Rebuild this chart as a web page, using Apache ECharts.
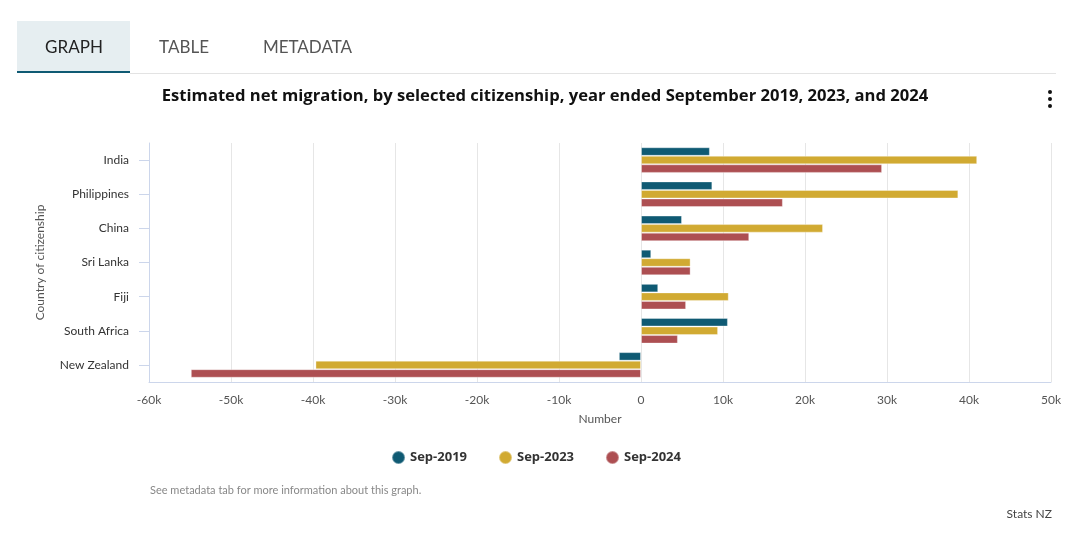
<!DOCTYPE html>
<html>
<head>
<meta charset="utf-8">
<script src="https://cdn.jsdelivr.net/npm/echarts@6/dist/echarts.min.js"></script>
<style>
html,body{margin:0;padding:0;background:#fff;}
#chart{width:1072px;height:534px;}
</style>
</head>
<body>
<div id="chart"></div>
<script>
const categories = ['India', 'Philippines', 'China', 'Sri Lanka', 'Fiji', 'South Africa', 'New Zealand'];
const sep2019 = [8400, 8700, 5000, 1250, 2100, 10600, -2700];
const sep2023 = [41000, 38700, 22200, 6050, 10700, 9400, -39700];
const sep2024 = [29400, 17300, 13200, 6050, 5500, 4500, -54900];
const seriesNames = ['Sep-2019', 'Sep-2023', 'Sep-2024'];
const colors = ['#0f5a73', '#d1aa32', '#ad4f52'];
const xTicks = { min: -60000, max: 50000, interval: 10000 };

const FONT = 'Lato, "Open Sans", sans-serif';
const BOLDFONT = '"Open Sans", Lato, sans-serif';
const chart = echarts.init(document.getElementById('chart'), null, { renderer: 'canvas' });

function mkSeries(name, data, color) {
  return {
    name: name,
    type: 'bar',
    data: data,
    barWidth: '25%',
    barGap: '0%',
    itemStyle: { color: color, borderColor: 'rgba(255,255,255,0.35)', borderWidth: 1 },
    emphasis: { disabled: true }
  };
}

chart.setOption({
  animation: false,
  color: colors,
  textStyle: { fontFamily: FONT },
  grid: { left: 149, right: 21, top: 143, bottom: 152, containLabel: false },
  title: {
    text: 'Estimated net migration, by selected citizenship, year ended September 2019, 2023, and 2024',
    left: 540, top: 83, textAlign: 'center',
    textStyle: { fontFamily: BOLDFONT, fontSize: 16.6, fontWeight: 'bold', color: '#111' }
  },
  legend: {
    data: seriesNames,
    bottom: 64, left: 'center',
    icon: 'circle', itemWidth: 13, itemHeight: 13, itemGap: 31,
    textStyle: { fontFamily: BOLDFONT, fontSize: 13, fontWeight: 'bold', color: '#333' }
  },
  xAxis: {
    type: 'value',
    min: xTicks.min, max: xTicks.max, interval: xTicks.interval,
    name: 'Number', nameLocation: 'middle', nameGap: 31,
    nameTextStyle: { fontFamily: FONT, fontSize: 12, color: '#555' },
    axisLine: { show: true, onZero: false, lineStyle: { color: '#ccd6eb' } },
    axisTick: { show: false },
    axisLabel: {
      margin: 12, fontSize: 12, color: '#555', fontFamily: FONT,
      formatter: v => v === 0 ? '0' : (v / 1000) + 'k'
    },
    splitLine: { show: true, lineStyle: { color: '#e6e6e6' } }
  },
  yAxis: {
    type: 'category',
    data: categories,
    inverse: true,
    name: 'Country of citizenship', nameLocation: 'middle', nameGap: 103,
    nameTextStyle: { fontFamily: FONT, fontSize: 12, color: '#555' },
    axisLine: { show: true, onZero: false, lineStyle: { color: '#ccd6eb' } },
    axisTick: { show: true, alignWithLabel: true, length: 10, lineStyle: { color: '#ccd6eb' } },
    axisLabel: { margin: 20, fontSize: 12, color: '#333', fontFamily: FONT },
    splitLine: { show: false }
  },
  series: [
    mkSeries(seriesNames[0], sep2019, colors[0]),
    mkSeries(seriesNames[1], sep2023, colors[1]),
    mkSeries(seriesNames[2], sep2024, colors[2])
  ],
  graphic: [
    { type: 'rect', shape: { x: 17, y: 21, width: 113, height: 52 }, style: { fill: '#e6eef1' }, silent: true },
    { type: 'line', shape: { x1: 130, y1: 73.5, x2: 1056, y2: 73.5 }, style: { stroke: '#e3e3e3', lineWidth: 1 }, silent: true },
    { type: 'rect', shape: { x: 17, y: 71, width: 113, height: 2 }, style: { fill: '#0f5a73' }, silent: true },
    { type: 'text', x: 74, y: 48, style: { text: 'GRAPH', fontFamily: FONT, fontSize: 17, fill: '#222', align: 'center', verticalAlign: 'middle' }, silent: true },
    { type: 'text', x: 184, y: 48, style: { text: 'TABLE', fontFamily: FONT, fontSize: 17, fill: '#555', align: 'center', verticalAlign: 'middle' }, silent: true },
    { type: 'text', x: 307.5, y: 48, style: { text: 'METADATA', fontFamily: FONT, fontSize: 17, fill: '#555', align: 'center', verticalAlign: 'middle' }, silent: true },
    { type: 'circle', shape: { cx: 1050, cy: 92, r: 2 }, style: { fill: '#111' }, silent: true },
    { type: 'circle', shape: { cx: 1050, cy: 99, r: 2 }, style: { fill: '#111' }, silent: true },
    { type: 'circle', shape: { cx: 1050, cy: 106, r: 2 }, style: { fill: '#111' }, silent: true },
    { type: 'text', x: 150, y: 490, style: { text: 'See metadata tab for more information about this graph.', fontFamily: FONT, fontSize: 11, fill: '#888', verticalAlign: 'middle' }, silent: true },
    { type: 'text', x: 1052, y: 514, style: { text: 'Stats NZ', fontFamily: FONT, fontSize: 12, fill: '#444', align: 'right', verticalAlign: 'middle' }, silent: true }
  ]
});
</script>
</body>
</html>
